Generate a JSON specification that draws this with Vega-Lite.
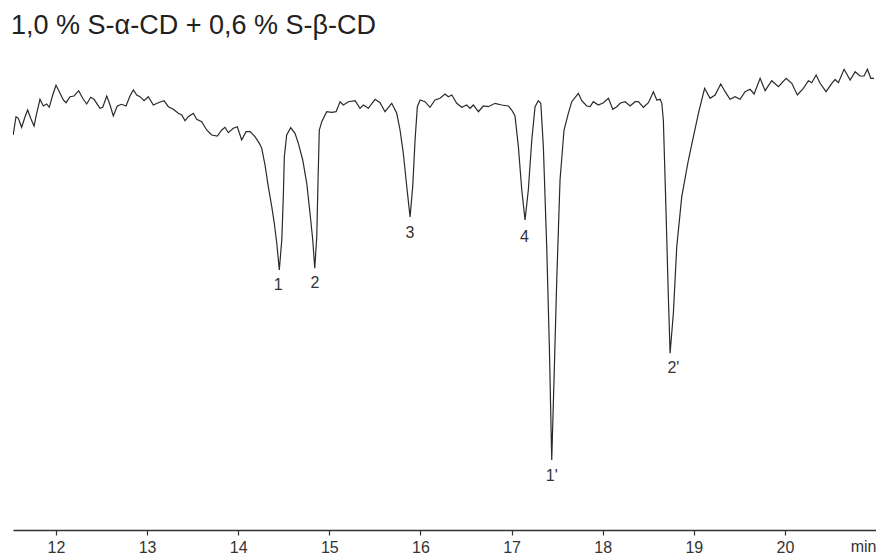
{
  "$schema": "https://vega.github.io/schema/vega-lite/v6.json",
  "width": 863,
  "height": 470,
  "autosize": {"type": "none"},
  "padding": {"left": 13, "top": 60, "right": 0, "bottom": 24},
  "background": "white",
  "title": {
    "text": "1,0 % S-α-CD + 0,6 % S-β-CD",
    "anchor": "start",
    "frame": "group",
    "font": "Liberation Sans",
    "fontSize": 27,
    "fontWeight": "normal",
    "color": "#222222",
    "baseline": "alphabetic",
    "offset": 23,
    "dx": -2,
    "dy": 24
  },
  "config": {"view": {"stroke": null}},
  "datasets": {
    "trace": [
      {"t": 11.53, "s": 395}, {"t": 11.561, "s": 413.3}, {"t": 11.586, "s": 411.7}, {"t": 11.623, "s": 402.7},
      {"t": 11.66, "s": 413.3}, {"t": 11.689, "s": 420}, {"t": 11.722, "s": 411.7}, {"t": 11.759, "s": 404},
      {"t": 11.788, "s": 416.7}, {"t": 11.824, "s": 430.7}, {"t": 11.861, "s": 424}, {"t": 11.898, "s": 426},
      {"t": 11.926, "s": 422.7}, {"t": 11.964, "s": 435}, {"t": 12.0, "s": 444.7}, {"t": 12.036, "s": 438.3},
      {"t": 12.08, "s": 430}, {"t": 12.11, "s": 427.3}, {"t": 12.154, "s": 433.3}, {"t": 12.198, "s": 434},
      {"t": 12.249, "s": 439.3}, {"t": 12.293, "s": 431.7}, {"t": 12.337, "s": 426}, {"t": 12.381, "s": 432.7},
      {"t": 12.417, "s": 430.7}, {"t": 12.483, "s": 421.7}, {"t": 12.513, "s": 422.7}, {"t": 12.557, "s": 434},
      {"t": 12.593, "s": 425}, {"t": 12.629, "s": 414}, {"t": 12.673, "s": 424}, {"t": 12.721, "s": 425.7},
      {"t": 12.768, "s": 424}, {"t": 12.812, "s": 434}, {"t": 12.849, "s": 440}, {"t": 12.886, "s": 435},
      {"t": 12.922, "s": 433.3}, {"t": 12.966, "s": 429.3}, {"t": 13.013, "s": 433.3}, {"t": 13.068, "s": 425},
      {"t": 13.123, "s": 427.3}, {"t": 13.186, "s": 429.3}, {"t": 13.233, "s": 423.3}, {"t": 13.288, "s": 420.7},
      {"t": 13.342, "s": 416.7}, {"t": 13.38, "s": 415}, {"t": 13.416, "s": 409.3}, {"t": 13.452, "s": 413.3},
      {"t": 13.507, "s": 416.7}, {"t": 13.544, "s": 410.7}, {"t": 13.599, "s": 408.3}, {"t": 13.654, "s": 400},
      {"t": 13.709, "s": 395}, {"t": 13.771, "s": 394}, {"t": 13.819, "s": 400}, {"t": 13.855, "s": 402.7},
      {"t": 13.891, "s": 397.3}, {"t": 13.946, "s": 401.7}, {"t": 13.99, "s": 403.3}, {"t": 14.038, "s": 390},
      {"t": 14.086, "s": 398.3}, {"t": 14.13, "s": 398.3}, {"t": 14.184, "s": 393.3}, {"t": 14.232, "s": 386.7},
      {"t": 14.258, "s": 381.7}, {"t": 14.294, "s": 365}, {"t": 14.33, "s": 343.3}, {"t": 14.368, "s": 323.3},
      {"t": 14.396, "s": 306.7}, {"t": 14.423, "s": 286.7}, {"t": 14.451, "s": 260}, {"t": 14.478, "s": 290},
      {"t": 14.495, "s": 333.3}, {"t": 14.506, "s": 373.3}, {"t": 14.532, "s": 395}, {"t": 14.576, "s": 402.3},
      {"t": 14.623, "s": 396.7}, {"t": 14.66, "s": 386.7}, {"t": 14.708, "s": 370}, {"t": 14.752, "s": 346.7},
      {"t": 14.788, "s": 316.7}, {"t": 14.818, "s": 290}, {"t": 14.84, "s": 261.7}, {"t": 14.862, "s": 293.3},
      {"t": 14.876, "s": 350}, {"t": 14.89, "s": 400}, {"t": 14.917, "s": 408.3}, {"t": 14.971, "s": 418.3},
      {"t": 15.026, "s": 417.7}, {"t": 15.074, "s": 418.3}, {"t": 15.117, "s": 428.3}, {"t": 15.154, "s": 425},
      {"t": 15.209, "s": 428.3}, {"t": 15.282, "s": 429.3}, {"t": 15.337, "s": 421.7}, {"t": 15.373, "s": 425},
      {"t": 15.428, "s": 421.7}, {"t": 15.502, "s": 430.7}, {"t": 15.557, "s": 427.3}, {"t": 15.611, "s": 418.3},
      {"t": 15.685, "s": 426.7}, {"t": 15.74, "s": 416.7}, {"t": 15.776, "s": 400}, {"t": 15.812, "s": 376.7},
      {"t": 15.85, "s": 343.3}, {"t": 15.886, "s": 313}, {"t": 15.915, "s": 343.3}, {"t": 15.941, "s": 390},
      {"t": 15.966, "s": 423.3}, {"t": 15.996, "s": 430}, {"t": 16.05, "s": 428.3}, {"t": 16.105, "s": 422.7},
      {"t": 16.16, "s": 430}, {"t": 16.215, "s": 431.7}, {"t": 16.27, "s": 436}, {"t": 16.306, "s": 433.3},
      {"t": 16.344, "s": 435}, {"t": 16.398, "s": 426.7}, {"t": 16.453, "s": 422.7}, {"t": 16.508, "s": 425},
      {"t": 16.544, "s": 421.7}, {"t": 16.581, "s": 425}, {"t": 16.636, "s": 418.3}, {"t": 16.69, "s": 424},
      {"t": 16.745, "s": 423.3}, {"t": 16.819, "s": 426.7}, {"t": 16.892, "s": 425}, {"t": 16.965, "s": 424},
      {"t": 17.002, "s": 420}, {"t": 17.038, "s": 414}, {"t": 17.075, "s": 383.3}, {"t": 17.112, "s": 340},
      {"t": 17.148, "s": 310}, {"t": 17.184, "s": 340}, {"t": 17.222, "s": 390}, {"t": 17.258, "s": 423.3},
      {"t": 17.294, "s": 429.3}, {"t": 17.321, "s": 426.7}, {"t": 17.349, "s": 383.3}, {"t": 17.386, "s": 283.3},
      {"t": 17.415, "s": 183.3}, {"t": 17.441, "s": 70}, {"t": 17.466, "s": 150}, {"t": 17.496, "s": 250},
      {"t": 17.532, "s": 350}, {"t": 17.576, "s": 400}, {"t": 17.623, "s": 416.7}, {"t": 17.661, "s": 428.3},
      {"t": 17.733, "s": 436.7}, {"t": 17.771, "s": 429.3}, {"t": 17.825, "s": 424}, {"t": 17.862, "s": 423.3},
      {"t": 17.898, "s": 428.3}, {"t": 17.953, "s": 425}, {"t": 18.008, "s": 427.3}, {"t": 18.063, "s": 431.7},
      {"t": 18.111, "s": 420.7}, {"t": 18.155, "s": 423.3}, {"t": 18.191, "s": 426.7}, {"t": 18.246, "s": 428.3},
      {"t": 18.301, "s": 424}, {"t": 18.356, "s": 428.3}, {"t": 18.392, "s": 428.3}, {"t": 18.447, "s": 422.7},
      {"t": 18.502, "s": 427.3}, {"t": 18.557, "s": 438.3}, {"t": 18.594, "s": 430}, {"t": 18.63, "s": 430.7},
      {"t": 18.649, "s": 426.7}, {"t": 18.666, "s": 410}, {"t": 18.696, "s": 316.7}, {"t": 18.721, "s": 233.3},
      {"t": 18.74, "s": 176.7}, {"t": 18.776, "s": 216.7}, {"t": 18.813, "s": 283.3}, {"t": 18.868, "s": 333.3},
      {"t": 18.941, "s": 370}, {"t": 18.996, "s": 393.3}, {"t": 19.051, "s": 416.7}, {"t": 19.069, "s": 423.3},
      {"t": 19.119, "s": 441.7}, {"t": 19.179, "s": 431.7}, {"t": 19.234, "s": 435}, {"t": 19.296, "s": 446},
      {"t": 19.344, "s": 438.3}, {"t": 19.398, "s": 430.7}, {"t": 19.453, "s": 433.3}, {"t": 19.508, "s": 430.7},
      {"t": 19.563, "s": 438.3}, {"t": 19.618, "s": 440.7}, {"t": 19.662, "s": 436}, {"t": 19.728, "s": 451.7},
      {"t": 19.783, "s": 439.3}, {"t": 19.856, "s": 449.3}, {"t": 19.929, "s": 443.3}, {"t": 20.013, "s": 451.7},
      {"t": 20.076, "s": 446.7}, {"t": 20.137, "s": 435}, {"t": 20.203, "s": 441.7}, {"t": 20.258, "s": 449.3},
      {"t": 20.295, "s": 447.3}, {"t": 20.343, "s": 455}, {"t": 20.386, "s": 446.7}, {"t": 20.452, "s": 438.3},
      {"t": 20.515, "s": 446.7}, {"t": 20.551, "s": 450.7}, {"t": 20.587, "s": 447.3}, {"t": 20.65, "s": 460.7},
      {"t": 20.716, "s": 450}, {"t": 20.771, "s": 458.3}, {"t": 20.825, "s": 454}, {"t": 20.869, "s": 454},
      {"t": 20.906, "s": 460.7}, {"t": 20.943, "s": 451.7}, {"t": 20.979, "s": 451.7}
    ],
    "peaks": [
      {"t": 14.44, "s": 245, "label": "1"},
      {"t": 14.843, "s": 246.7, "label": "2"},
      {"t": 15.886, "s": 296.7, "label": "3"},
      {"t": 17.141, "s": 293.3, "label": "4"},
      {"t": 17.441, "s": 54, "label": "1'"},
      {"t": 18.776, "s": 162, "label": "2'"}
    ]
  },
  "layer": [
    {
      "data": {"name": "trace"},
      "mark": {"type": "line", "color": "#2a2a2a", "strokeWidth": 1.2, "clip": true, "interpolate": "linear"},
      "encoding": {
        "x": {
          "field": "t", "type": "quantitative",
          "scale": {"domain": [11.528, 21.0], "nice": false, "zero": false},
          "axis": {
            "values": [12, 13, 14, 15, 16, 17, 18, 19, 20],
            "format": "d",
            "grid": false,
            "domainColor": "#333333",
            "domainWidth": 1.5,
            "tickColor": "#333333",
            "tickSize": 5,
            "tickWidth": 1.2,
            "labelFont": "Liberation Sans",
            "labelFontSize": 16,
            "labelColor": "#333333",
            "labelPadding": 4,
            "title": "min",
            "titleFont": "Liberation Sans",
            "titleFontSize": 16,
            "titleFontWeight": "normal",
            "titleColor": "#333333",
            "titleAnchor": "end",
            "titleAlign": "right",
            "titleBaseline": "alphabetic",
            "titleX": 863,
            "titleY": 21
          }
        },
        "y": {
          "field": "s", "type": "quantitative",
          "scale": {"domain": [0, 470], "nice": false, "zero": false},
          "axis": null
        }
      }
    },
    {
      "data": {"name": "peaks"},
      "mark": {"type": "text", "font": "Liberation Sans", "fontSize": 16, "color": "#333333", "baseline": "middle", "align": "center"},
      "encoding": {
        "x": {"field": "t", "type": "quantitative"},
        "y": {"field": "s", "type": "quantitative"},
        "text": {"field": "label"}
      }
    }
  ]
}
